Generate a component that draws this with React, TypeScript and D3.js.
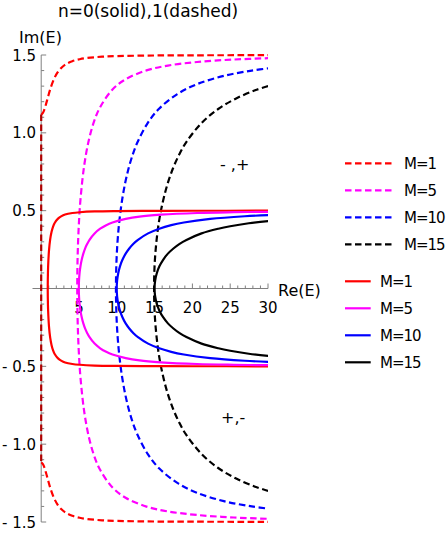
import React from "react";
import * as d3 from "d3";

// Upper branches [Re(E), Im(E)]; lower branches are the complex conjugates.
const solidM1: [number, number][] = [[0.866, 0], [0.874, 0.057], [0.912, 0.137], [1.029, 0.243], [1.188, 0.316], [1.372, 0.364], [1.572, 0.398], [1.783, 0.421], [2.225, 0.449], [2.686, 0.465], [3.158, 0.475], [4.121, 0.485], [5.098, 0.490], [7.071, 0.495], [10.05, 0.4975], [15.03, 0.4989], [20.03, 0.4994], [30.02, 0.4997]];
const solidM5: [number, number][] = [[4.975, 0], [5.000, 0.050], [5.075, 0.0985], [5.198, 0.144], [5.365, 0.186], [5.572, 0.224], [5.815, 0.258], [6.090, 0.287], [6.391, 0.313], [7.062, 0.354], [7.804, 0.384], [8.598, 0.407], [9.430, 0.424], [11.18, 0.447], [13.00, 0.462], [15.81, 0.474], [20.62, 0.485], [25.50, 0.490], [30.41, 0.493]];
const solidM10: [number, number][] = [[9.988, 0], [10.04, 0.050], [10.19, 0.098], [10.43, 0.144], [10.76, 0.186], [11.17, 0.224], [11.65, 0.257], [12.20, 0.287], [12.80, 0.3125], [14.14, 0.354], [15.62, 0.384], [17.20, 0.407], [18.87, 0.424], [22.36, 0.447], [26.93, 0.464], [30.68, 0.473]];
const solidM15: [number, number][] = [[14.99, 0], [15.07, 0.050], [15.29, 0.098], [15.65, 0.144], [16.15, 0.186], [16.76, 0.224], [17.49, 0.257], [18.31, 0.287], [19.21, 0.312], [21.21, 0.354], [23.43, 0.384], [25.00, 0.400], [27.46, 0.419], [30.02, 0.433]];

const dashedM1: [number, number][] = [[0, 1.118], [0.134, 1.122], [0.329, 1.138], [0.634, 1.184], [0.913, 1.233], [1.175, 1.277], [1.675, 1.344], [2.162, 1.388], [2.647, 1.417], [3.133, 1.437], [4.109, 1.460], [5.091, 1.473], [6.078, 1.481], [8.060, 1.489], [10.05, 1.493], [15.03, 1.497], [20.03, 1.498], [30.02, 1.499]];
const dashedM5: [number, number][] = [[4.770, 0], [4.798, 0.156], [4.883, 0.307], [5.020, 0.448], [5.204, 0.577], [5.690, 0.791], [6.298, 0.953], [6.993, 1.073], [7.752, 1.161], [9.401, 1.277], [11.16, 1.344], [13.92, 1.401], [16.76, 1.432], [20.61, 1.455], [25.49, 1.471], [30.41, 1.480]];
const dashedM10: [number, number][] = [[9.887, 0], [9.939, 0.151], [10.09, 0.297], [10.34, 0.435], [10.68, 0.562], [11.10, 0.676], [11.59, 0.777], [12.14, 0.865], [12.75, 0.941], [14.10, 1.064], [15.59, 1.155], [18.01, 1.249], [20.58, 1.312], [24.16, 1.366], [27.85, 1.400], [30.67, 1.418]];
const dashedM15: [number, number][] = [[14.93, 0], [15.00, 0.150], [15.23, 0.296], [15.59, 0.433], [16.10, 0.559], [16.72, 0.673], [17.45, 0.774], [18.27, 0.862], [19.17, 0.939], [21.19, 1.062], [23.41, 1.153], [25.79, 1.221], [28.29, 1.273], [30.01, 1.300]];

const imaginarySegment: [number, number][] = [[0, 1.118], [0, -1.118]];

const masses = ["1", "5", "10", "15"];
const colors = ["#ff0000", "#ff00ff", "#0000ff", "#000000"];
const xMajor = [5, 10, 15, 20, 25, 30];
const yMajor = [1.5, 1.0, 0.5, -0.5, -1.0, -1.5];
const yLabels = ["1.5", "1.0", "0.5", "- 0.5", "- 1.0", "- 1.5"];
const xMinor = d3.range(0, 31, 1);
const yMinor = d3.range(-15, 16, 1).map((v) => v / 10);

const FONT = "DejaVu Sans, sans-serif";

export default function App() {
  const x = d3.scaleLinear().domain([0, 30]).range([41.2, 268]);
  const y = d3.scaleLinear().domain([-1.5, 1.5]).range([522, 55]);
  const line = d3
    .line<[number, number]>()
    .x((d) => x(d[0]))
    .y((d) => y(d[1]))
    .curve(d3.curveCatmullRom.alpha(0.5));
  const straight = d3
    .line<[number, number]>()
    .x((d) => x(d[0]))
    .y((d) => y(d[1]));

  const conj = (pts: [number, number][]) => pts.map((p) => [p[0], -p[1]] as [number, number]);
  const full = (pts: [number, number][]) => {
    const up = pts.slice().reverse();
    const down = conj(pts.slice(1));
    return line(up.concat(down))!;
  };
  const halves = (pts: [number, number][]) => [line(pts)!, line(conj(pts))!];

  const solids = [solidM1, solidM5, solidM10, solidM15];
  const dashes = [dashedM1, dashedM5, dashedM10, dashedM15];
  const dash = "6.5,3.5";

  return (
    <svg width={446} height={533} style={{ position: "absolute", left: 0, top: 0 }}>
      <defs>
        <clipPath id="plot">
          <rect x={x(0) - 2} y={40} width={x(30) - x(0) + 2} height={500} />
        </clipPath>
      </defs>
      <text x={148} y={17} fontFamily={FONT} fontSize={17} textAnchor="middle" fill="#000">
        n=0(solid),1(dashed)
      </text>
      <g stroke="#808080" strokeWidth={1} fill="none">
        <line x1={x(0)} x2={x(0)} y1={y(1.5)} y2={y(-1.5)} />
        <line x1={32.5} x2={x(30)} y1={y(0)} y2={y(0)} />
        {yMinor.map((v) => {
          const major = Math.abs(Math.round(v * 10) % 5) === 0 && v !== 0;
          return <line key={"ym" + v} x1={x(0)} x2={x(0) + (major ? 5 : 3)} y1={y(v)} y2={y(v)} />;
        })}
        {xMinor.map((v) => {
          const major = v % 5 === 0 && v !== 0;
          return <line key={"xm" + v} x1={x(v)} x2={x(v)} y1={y(0)} y2={y(0) - (major ? 5 : 3)} />;
        })}
      </g>
      <g fontFamily={FONT} fontSize={15} fill="#000">
        {yMajor.map((v, i) => (
          <text key={"yl" + v} x={36} y={y(v) + 5.5} textAnchor="end">
            {yLabels[i]}
          </text>
        ))}
        {xMajor.map((v) => (
          <text key={"xl" + v} x={x(v)} y={y(0) + 24} textAnchor="middle">
            {v}
          </text>
        ))}
        <text x={19} y={43} fontSize={16}>Im(E)</text>
        <text x={278} y={296} fontSize={16}>Re(E)</text>
        <text x={220} y={170} fontSize={16}>- ,+</text>
        <text x={221} y={423} fontSize={16}>+,-</text>
      </g>
      <g clipPath="url(#plot)" fill="none" strokeWidth={2.2}>
        {dashes.map((pts, i) =>
          i === 0 ? (
            halves(pts).map((d, j) => (
              <path key={"d0" + j} d={d} stroke={colors[0]} strokeDasharray={dash} />
            ))
          ) : (
            <path key={"d" + i} d={full(pts)} stroke={colors[i]} strokeDasharray={dash} />
          )
        )}
        <path d={straight(imaginarySegment)!} stroke="#b00000" strokeDasharray={dash} />
        {solids.map((pts, i) => (
          <path key={"s" + i} d={full(pts)} stroke={colors[i]} />
        ))}
      </g>
      <g fontFamily={FONT} fontSize={15} fill="#000">
        {masses.map((m, i) => (
          <g key={"ld" + m} transform={`translate(0, ${163.3 + i * 27})`}>
            <line x1={345} x2={393} y1={0} y2={0} stroke={colors[i]} strokeWidth={2.2} strokeDasharray={dash} />
            <text x={404} y={5.5} letterSpacing={-1}>{"M=" + m}</text>
          </g>
        ))}
        {masses.map((m, i) => (
          <g key={"ls" + m} transform={`translate(0, ${281.3 + i * 27})`}>
            <line x1={345} x2={370.7} y1={0} y2={0} stroke={colors[i]} strokeWidth={2.2} />
            <text x={380} y={5.5} letterSpacing={-1}>{"M=" + m}</text>
          </g>
        ))}
      </g>
    </svg>
  );
}
